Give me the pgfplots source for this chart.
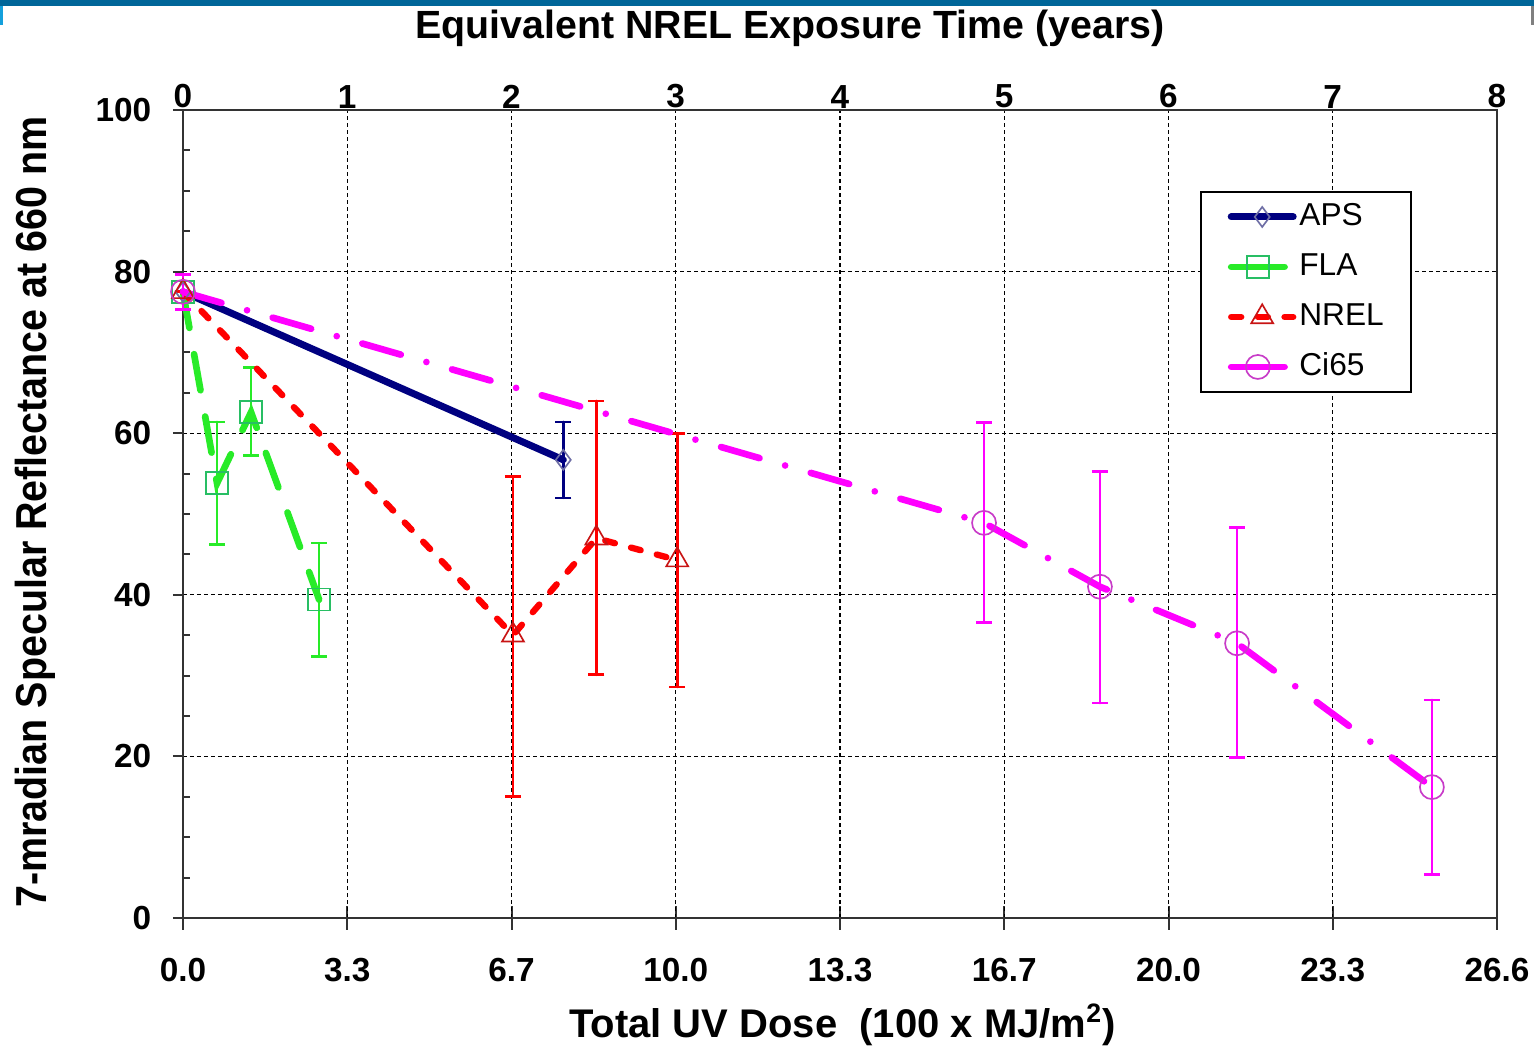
\documentclass[border=0pt]{standalone}
\usepackage{pgfplots}
\usepackage{pgfplotstable}
\usepackage{graphicx}
\pgfplotsset{compat=1.18}
\usepackage{fontspec}
\setmainfont{Liberation Sans}
\definecolor{apsblue}{RGB}{0,0,128}
\definecolor{apsmark}{RGB}{110,110,165}
\definecolor{flagreen}{RGB}{40,235,40}
\definecolor{flamark}{RGB}{40,190,100}
\definecolor{nrelred}{RGB}{255,0,0}
\definecolor{nrelmark}{RGB}{200,20,20}
\definecolor{cimag}{RGB}{255,0,255}
\definecolor{cimark}{RGB}{200,60,200}
\definecolor{band}{RGB}{0,102,153}
\definecolor{bandlight}{RGB}{20,160,220}

\pgfplotstableread{
x y ep em
0 77.5 0 0
7.71 56.7 4.7 4.7
}\aps
\pgfplotstableread{
x y ep em
0 77.5 0 0
0.69 53.8 7.6 7.6
1.38 62.6 5.5 5.4
2.76 39.4 7.0 7.0
}\fla
\pgfplotstableread{
x y ep em
0 77.5 0 0
6.69 35.0 19.6 20.0
8.38 47.0 17.0 16.9
10.02 44.3 15.7 15.7
}\nrel
\pgfplotstableread{
x y ep em
0 77.5 2.1 2.2
16.24 48.9 12.4 12.3
18.59 41.0 14.3 14.4
21.37 34.0 14.3 14.1
25.32 16.2 10.8 10.8
}\cisf

\begin{document}
\begin{tikzpicture}
\useasboundingbox (-54.9pt,-38.1pt) rectangle (405.3pt,275.4pt);
\fill[band] (-54.9pt,273.6pt) rectangle (405.3pt,275.4pt);
\fill[bandlight] (-54.9pt,267.9pt) rectangle (-54.0pt,273.6pt);
\fill[gray] (404.4pt,267.9pt) rectangle (405.3pt,273.6pt);

% bottom tick marks (drawn first, under the data)
\begin{axis}[
  scale only axis, width=394.2pt, height=242.4pt,
  xmin=0, xmax=26.64, ymin=0, ymax=100,
  hide y axis, axis line style={line width=0.6pt, black!80},
  xtick={0,3.33,6.66,9.99,13.32,16.65,19.98,23.31,26.64},
  xticklabels={,,,,,,,,}, xtick pos=bottom,
  tick align=center, major tick length=7pt,
  tick style={line width=0.6pt, black!80},
]
\end{axis}

% top axis
\begin{axis}[
  scale only axis, width=394.2pt, height=242.4pt,
  xmin=0, xmax=8, ymin=0, ymax=100,
  hide y axis, axis line style={line width=0.6pt, black!80},
  xtick={0,1,...,8},
  xtick pos=upper, xticklabel pos=upper,
  major tick length=0pt,
  /pgf/number format/assume math mode=true,
  tick label style={font=\fontsize{10}{12}\selectfont\bfseries},
  xticklabel style={yshift=-3pt},
]
\end{axis}

% main axis
\begin{axis}[
  scale only axis, width=394.2pt, height=242.4pt,
  xmin=0, xmax=26.64, ymin=0, ymax=100,
  clip=false,
  xtick={0,3.33,6.66,9.99,13.32,16.65,19.98,23.31,26.64},
  xticklabels={0.0,3.3,6.7,10.0,13.3,16.7,20.0,23.3,26.6},
  ytick={0,20,40,60,80,100},
  minor y tick num=3,
  xtick pos=bottom, ytick pos=left,
  tick align=outside, major tick length=3pt, minor tick length=2pt,
  minor y tick style={xshift=2pt},
  xtick style={draw=none},
  xmajorgrids, ymajorgrids,
  major grid style={black, line width=0.4pt, dash pattern=on 1.2pt off 0.9pt},
  axis line style={line width=0.6pt, black!80},
  tick style={line width=0.6pt, black!80},
  /pgf/number format/assume math mode=true,
  tick label style={font=\fontsize{10}{12}\selectfont\bfseries},
  yticklabel style={xshift=-3pt},
  xticklabel style={yshift=-5.4pt},
  xlabel={Total UV Dose\ \ (100 x MJ/m\textsuperscript{2})},
  every axis x label/.style={at={(axis description cs:0.502,-0.1324)}, anchor=center, font=\bfseries\fontsize{12}{14}\selectfont},
  ylabel={\scalebox{0.91}[1]{7-mradian Specular Reflectance at 660 nm}},
  every axis y label/.style={at={(axis description cs:-0.1126,0.5025)}, anchor=center, rotate=90, font=\bfseries\fontsize{13}{15}\selectfont},
  title={Equivalent NREL Exposure Time (years)},
  every axis title/.style={at={(axis description cs:0.462,1.1015)}, anchor=center, font=\bfseries\fontsize{11.8}{14}\selectfont},
  legend style={at={(axis description cs:0.774,0.8998)}, anchor=north west, draw=black, line width=0.6pt,
    font=\fontsize{9.5}{11}\selectfont, inner xsep=8pt, inner ysep=3pt, row sep=6pt,
    nodes={inner sep=0pt, text height=7pt, text depth=2pt}},
  legend cell align=left,
  /tikz/every odd column/.append style={column sep=0.8pt},
  legend image code/.code={\draw[mark repeat=2,mark phase=2] plot coordinates {(0pt,0pt) (9.3pt,0pt) (18.6pt,0pt)};},
]
\addplot[color=apsblue, line width=2.1pt, line cap=round, solid,
  mark=diamond, mark size=3pt, mark options={solid, draw=apsmark, line width=0.5pt, fill=none},
  error bars/.cd, y dir=both, y explicit,
  error bar style={solid, line width=0.8pt, apsblue},
  error mark options={solid, line width=0.8pt, mark size=2.4pt, apsblue, rotate=90}]
  table[x=x, y=y, y error plus=ep, y error minus=em] {\aps};
\addlegendentry{APS}
\addplot[color=flagreen, line width=2pt, line cap=round, dash pattern=on 11pt off 8pt,
  mark=square, mark size=3.3pt, mark options={solid, draw=flamark, line width=0.5pt, fill=none},
  legend image code/.code={\draw[solid,mark repeat=2,mark phase=2] plot coordinates {(0pt,0pt) (8pt,0pt) (16pt,0pt)};},
  error bars/.cd, y dir=both, y explicit,
  error bar style={solid, line width=0.8pt, flagreen},
  error mark options={solid, line width=0.8pt, mark size=2.4pt, flagreen, rotate=90}]
  table[x=x, y=y, y error plus=ep, y error minus=em] {\fla};
\addlegendentry{FLA}
\addplot[color=nrelred, line width=1.9pt, line cap=round, dash pattern=on 3pt off 5pt,
  mark=triangle, mark size=3.8pt, mark options={solid, draw=nrelmark, line width=0.5pt, fill=none},
  error bars/.cd, y dir=both, y explicit,
  error bar style={solid, line width=0.8pt, nrelred},
  error mark options={solid, line width=0.8pt, mark size=2.4pt, nrelred, rotate=90}]
  table[x=x, y=y, y error plus=ep, y error minus=em] {\nrel};
\addlegendentry{NREL}
\addplot[color=cimag, line width=2pt, line cap=round, dash pattern=on 12pt off 8pt on 0pt off 8pt,
  mark=o, mark size=3.6pt, mark options={solid, draw=cimark, line width=0.5pt, fill=none},
  legend image code/.code={\draw[solid,mark repeat=2,mark phase=2] plot coordinates {(0pt,0pt) (8pt,0pt) (16pt,0pt)};},
  error bars/.cd, y dir=both, y explicit,
  error bar style={solid, line width=0.8pt, cimag},
  error mark options={solid, line width=0.8pt, mark size=2.4pt, cimag, rotate=90}]
  table[x=x, y=y, y error plus=ep, y error minus=em] {\cisf};
\addlegendentry{Ci65}
\end{axis}
\end{tikzpicture}
\end{document}
